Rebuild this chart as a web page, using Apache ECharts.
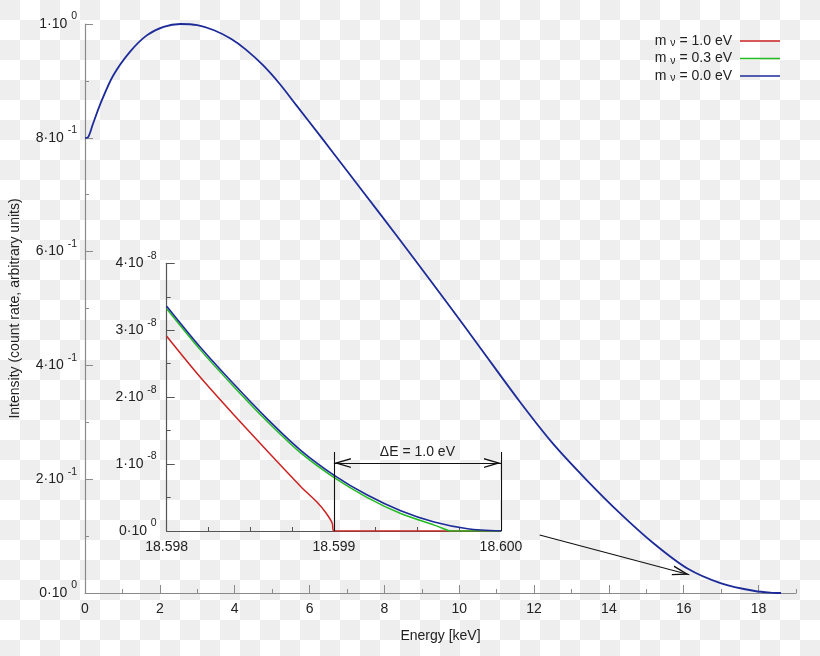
<!DOCTYPE html>
<html><head><meta charset="utf-8">
<script src="https://cdn.jsdelivr.net/npm/echarts@6/dist/echarts.min.js"></script>
<style>
html,body{margin:0;padding:0;width:820px;height:656px;overflow:hidden;
background-color:#fff;background-image:repeating-conic-gradient(#fff 0 25%, #eeeeee 0 50%);background-size:40px 40px;background-position:0 0;}
#c{width:820px;height:656px;}
</style></head><body><div id="c"></div>
<script>
// ---- data ----
// main spectrum: energy [keV], intensity (normalised)
const mainEnergy    = [0, 0.08, 0.2, 0.4, 0.75, 1.2, 1.65, 2.1, 2.55, 3.0, 3.45, 3.9, 4.3, 4.75, 5.2, 5.65, 6.3, 7.0, 7.9, 8.8, 9.7, 10.55, 11.6, 12.5, 13.4, 14.3, 15.2, 16.1, 17.0, 17.9, 18.4, 18.6];
const mainIntensity = [0.80, 0.801, 0.822, 0.858, 0.909, 0.951, 0.980, 0.995, 1.0, 0.998, 0.989, 0.974, 0.955, 0.928, 0.895, 0.857, 0.802, 0.742, 0.665, 0.587, 0.508, 0.432, 0.338, 0.263, 0.199, 0.140, 0.087, 0.043, 0.017, 0.0035, 0.0003, 0];

// inset near the endpoint: energy [keV], intensity [1e-8]
const insetEnergyM0  = [18.598, 18.5982, 18.5984, 18.5986, 18.5988, 18.599, 18.5992, 18.5994, 18.5996, 18.5998, 18.6];
const insetM0        = [3.36, 2.75, 2.20, 1.68, 1.21, 0.836, 0.537, 0.303, 0.134, 0.034, 0];
const insetEnergyM03 = [18.598, 18.5982, 18.5984, 18.5986, 18.5988, 18.599, 18.5992, 18.5994, 18.5996, 18.59965, 18.5997, 18.6];
const insetM03       = [3.32, 2.71, 2.16, 1.64, 1.17, 0.80, 0.50, 0.262, 0.088, 0.042, 0, 0];
const insetEnergyM1  = [18.598, 18.5982, 18.5984, 18.5986, 18.5988, 18.5989, 18.59895, 18.59899, 18.599, 18.6];
const insetM1        = [2.91, 2.30, 1.74, 1.20, 0.67, 0.43, 0.28, 0.12, 0, 0];

const seriesNames = ['mν = 1.0 eV', 'mν = 0.3 eV', 'mν = 0.0 eV'];
const mainXLabels = [0, 2, 4, 6, 8, 10, 12, 14, 16, 18];
const mainYLabels = {0: ['0', '0'], 0.2: ['2', '-1'], 0.4: ['4', '-1'], 0.6: ['6', '-1'], 0.8: ['8', '-1'], 1: ['1', '0']};
const insetYLabels = {0: ['0', '0'], 1: ['1', '-8'], 2: ['2', '-8'], 3: ['3', '-8'], 4: ['4', '-8']};

// annotations (data coordinates)
const deltaE = [18.599, 18.6];
const deltaEHeights = [1.18, 1.015];   // vertical bar top, arrow level  [1e-8]
const arrowFrom = [12.15, 0.102];
const arrowTo   = [16.15, 0.032];

// ---- chart ----
const FONT = 'Liberation Sans, Arial, sans-serif';
const TXT = '#222';
const zip = (a, b) => a.map((v, i) => [v, b[i]]);
const chevron = 'path://M50,0 L50,0 M50,170 L100,340 L86,340 L50,218 L14,340 L0,340 Z';
const supRich = {
  a: {fontSize: 14, lineHeight: 26, color: TXT, fontFamily: FONT},
  s: {fontSize: 10.5, lineHeight: 8, verticalAlign: 'top', color: TXT, fontFamily: FONT}
};
const expLabel = (tbl) => (v) => {
  const key = Math.round(v * 1000) / 1000;
  const e = tbl[key];
  return e ? '{a|' + e[0] + '·10 }{s|' + e[1] + '}' : '';
};

const mainAxisColor = '#8a8a8a';
const insetAxisColor = '#555';
const RED = '#cc2222', GREEN = '#22bb22', BLUE = '#1c2b99';

const chart = echarts.init(document.getElementById('c'), null, {renderer: 'canvas'});
chart.setOption({
  animation: false,
  backgroundColor: 'transparent',
  textStyle: {fontFamily: FONT},
  grid: [
    {left: 85, right: 24, top: 24, bottom: 63},
    {left: 166.7, top: 263.3, width: 334.3, height: 267.7}
  ],
  legend: {
    data: seriesNames,
    orient: 'vertical',
    right: 40, top: 34, padding: 0,
    icon: 'rect',
    itemWidth: 40, itemHeight: 1.6, itemGap: 2.5,
    align: 'right',
    selectedMode: false,
    formatter: (n) => '{a|m }{b|ν}{a|' + n.slice(2) + '}{g|}',
    textStyle: {
      color: TXT, fontSize: 14, fontFamily: FONT,
      rich: {
        a: {fontSize: 14, lineHeight: 16, color: TXT, fontFamily: FONT},
        b: {fontSize: 10.5, lineHeight: 8, verticalAlign: 'bottom', color: TXT, fontFamily: FONT},
        g: {width: 3}
      }
    }
  },
  xAxis: [
    {
      gridIndex: 0, type: 'value', min: 0, max: 19, interval: 1, position: 'bottom',
      name: 'Energy [keV]', nameLocation: 'middle', nameGap: 36,
      nameTextStyle: {color: TXT, fontSize: 14, fontFamily: FONT},
      axisLine: {show: true, lineStyle: {color: mainAxisColor, width: 1.2}},
      axisTick: {show: true, inside: true, length: 4, lineStyle: {color: mainAxisColor}},
      axisLabel: {color: TXT, fontSize: 14, margin: 9, fontFamily: FONT,
        formatter: (v) => mainXLabels.includes(v) ? String(v) : ''},
      splitLine: {show: false}
    },
    {
      gridIndex: 0, type: 'value', min: 0, max: 19, interval: 2, position: 'bottom',
      axisLine: {show: false},
      axisTick: {show: true, inside: true, length: 8, customValues: mainXLabels, lineStyle: {color: mainAxisColor}},
      axisLabel: {show: false},
      splitLine: {show: false}
    },
    {
      gridIndex: 1, type: 'value', min: 18.598, max: 18.6, interval: 0.001,
      axisLine: {show: true, lineStyle: {color: insetAxisColor, width: 1.2}},
      axisTick: {show: true, inside: true, length: 8, lineStyle: {color: insetAxisColor}},
      minorTick: {show: true, splitNumber: 4, length: 4, lineStyle: {color: insetAxisColor}},
      axisLabel: {color: TXT, fontSize: 14, margin: 9, fontFamily: FONT, formatter: (v) => v.toFixed(3)},
      splitLine: {show: false}, minorSplitLine: {show: false}
    }
  ],
  yAxis: [
    {
      gridIndex: 0, type: 'value', min: 0, max: 1, interval: 0.2,
      name: 'Intensity (count rate, arbitrary units)', nameLocation: 'middle', nameGap: 63, nameRotate: 90,
      nameTextStyle: {color: TXT, fontSize: 14, fontFamily: FONT},
      axisLine: {show: true, lineStyle: {color: mainAxisColor, width: 1.2}},
      axisTick: {show: true, inside: true, length: 8, lineStyle: {color: mainAxisColor}},
      minorTick: {show: true, splitNumber: 2, length: 4, lineStyle: {color: mainAxisColor}},
      axisLabel: {margin: 8, formatter: expLabel(mainYLabels), rich: supRich},
      splitLine: {show: false}, minorSplitLine: {show: false}
    },
    {
      gridIndex: 1, type: 'value', min: 0, max: 4, interval: 1,
      axisLine: {show: true, lineStyle: {color: insetAxisColor, width: 1.2}},
      axisTick: {show: true, inside: true, length: 8, lineStyle: {color: insetAxisColor}},
      minorTick: {show: true, splitNumber: 2, length: 4, lineStyle: {color: insetAxisColor}},
      axisLabel: {margin: 10, formatter: expLabel(insetYLabels), rich: supRich},
      splitLine: {show: false}, minorSplitLine: {show: false}
    }
  ],
  series: [
    {
      name: seriesNames[0], type: 'line', xAxisIndex: 2, yAxisIndex: 1,
      data: zip(insetEnergyM1, insetM1), showSymbol: false, symbol: 'none',
      smooth: 0.3, clip: true, silent: true,
      lineStyle: {color: RED, width: 1.5}, itemStyle: {color: RED}
    },
    {
      name: seriesNames[1], type: 'line', xAxisIndex: 2, yAxisIndex: 1,
      data: zip(insetEnergyM03, insetM03), showSymbol: false, symbol: 'none',
      smooth: 0.3, clip: true, silent: true,
      lineStyle: {color: GREEN, width: 1.5}, itemStyle: {color: GREEN}
    },
    {
      name: seriesNames[2], type: 'line', xAxisIndex: 2, yAxisIndex: 1,
      data: zip(insetEnergyM0, insetM0), showSymbol: false, symbol: 'none',
      smooth: 0.3, clip: true, silent: true,
      lineStyle: {color: BLUE, width: 1.6}, itemStyle: {color: BLUE},
      markLine: {
        silent: true, animation: false, symbol: ['none', 'none'],
        lineStyle: {color: '#111', width: 1.1, type: 'solid'},
        emphasis: {disabled: true},
        label: {show: false},
        data: [
          [{coord: [deltaE[0], 0]}, {coord: [deltaE[0], deltaEHeights[0]]}],
          [{coord: [deltaE[1], 0]}, {coord: [deltaE[1], deltaEHeights[0]]}],
          [
            {coord: [deltaE[0], deltaEHeights[1]], symbol: chevron, symbolSize: [10, 34]},
            {coord: [deltaE[1], deltaEHeights[1]], symbol: chevron, symbolSize: [10, 34],
             label: {show: true, position: 'insideMiddleTop', distance: 4, formatter: 'ΔE = 1.0 eV',
                     color: TXT, fontSize: 14, fontFamily: FONT}}
          ]
        ]
      }
    },
    {
      name: seriesNames[2], type: 'line', xAxisIndex: 0, yAxisIndex: 0,
      data: zip(mainEnergy, mainIntensity), showSymbol: false, symbol: 'none',
      smooth: 0.3, clip: true, silent: true,
      lineStyle: {color: BLUE, width: 1.8}, itemStyle: {color: BLUE},
      markLine: {
        silent: true, animation: false, symbol: ['none', 'none'],
        lineStyle: {color: '#111', width: 1.1, type: 'solid'},
        emphasis: {disabled: true},
        label: {show: false},
        data: [
          [{coord: arrowFrom, symbol: 'none'}, {coord: arrowTo, symbol: chevron, symbolSize: [10, 34]}]
        ]
      }
    }
  ]
});
</script></body></html>
